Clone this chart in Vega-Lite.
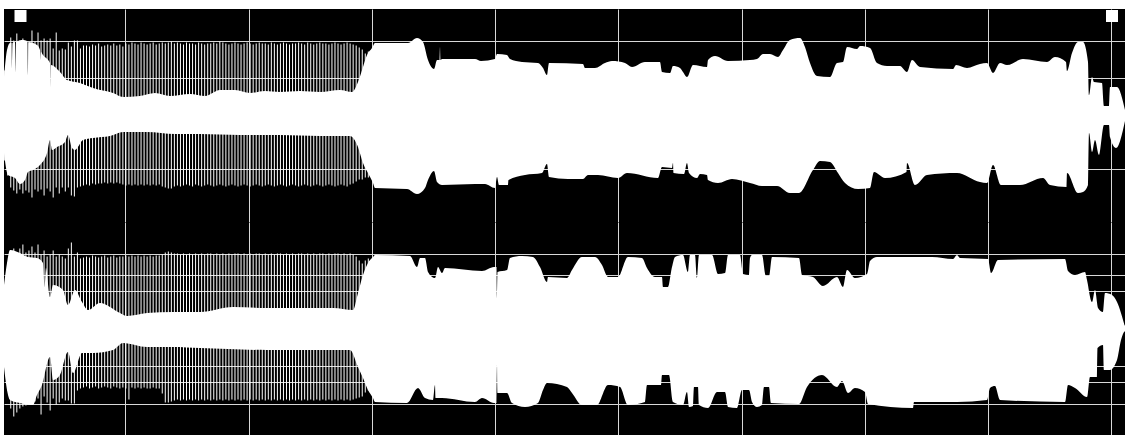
{"$schema":"https://vega.github.io/schema/vega-lite/v6.json","background":"white","padding":{"left":4,"top":9,"right":0,"bottom":0},"spacing":0,"config":{"view":{"fill":"black","stroke":null},"axis":{"grid":true,"gridColor":"#d8d8d8","gridWidth":1,"labels":false,"ticks":false,"domain":false,"title":null}},
"datasets":{
"marks":[{"t":16.5,"v":99.5},{"t":1108,"v":99.5}],
"comb":[
{"t":0.7,"hi1":45,"lo1":-45,"hi2":43,"lo2":-38},{"t":3.73,"hi1":65,"lo1":-60,"hi2":65,"lo2":-62},{"t":6.76,"hi1":78,"lo1":-72,"hi2":78,"lo2":-80},{"t":9.79,"hi1":75,"lo1":-75,"hi2":80,"lo2":-88},{"t":12.82,"hi1":82,"lo1":-78,"hi2":76,"lo2":-84},{"t":15.85,"hi1":75,"lo1":-74,"hi2":80,"lo2":-80},{"t":18.88,"hi1":77,"lo1":-78,"hi2":84,"lo2":-78},{"t":21.91,"hi1":75,"lo1":-75,"hi2":76,"lo2":-77},{"t":24.94,"hi1":73,"lo1":-77,"hi2":78,"lo2":-75},{"t":27.97,"hi1":85,"lo1":-82,"hi2":82,"lo2":-76},
{"t":31,"hi1":74,"lo1":-74,"hi2":76,"lo2":-73},{"t":34.03,"hi1":83,"lo1":-76,"hi2":84,"lo2":-70},{"t":37.06,"hi1":75,"lo1":-74,"hi2":74,"lo2":-86},{"t":40.09,"hi1":77,"lo1":-80,"hi2":78,"lo2":-68},{"t":43.12,"hi1":75,"lo1":-73,"hi2":72,"lo2":-74},{"t":46.15,"hi1":77,"lo1":-76,"hi2":74,"lo2":-82},{"t":49.18,"hi1":67,"lo1":-82,"hi2":78,"lo2":-70},{"t":52.21,"hi1":83,"lo1":-72,"hi2":72,"lo2":-76},{"t":55.24,"hi1":65,"lo1":-78,"hi2":74,"lo2":-74},{"t":58.27,"hi1":67,"lo1":-72,"hi2":72,"lo2":-70},
{"t":61.3,"hi1":66,"lo1":-76,"hi2":70,"lo2":-72},{"t":64.33,"hi1":73,"lo1":-72,"hi2":80,"lo2":-72},{"t":67.36,"hi1":69,"lo1":-80,"hi2":86,"lo2":-75},{"t":70.39,"hi1":75,"lo1":-81,"hi2":72,"lo2":-75},{"t":73.42,"hi1":75,"lo1":-72,"hi2":76,"lo2":-62},{"t":76.45,"hi1":67,"lo1":-71,"hi2":70,"lo2":-60},{"t":79.48,"hi1":70,"lo1":-70,"hi2":71,"lo2":-59},{"t":82.51,"hi1":70,"lo1":-69,"hi2":72,"lo2":-58},{"t":85.54,"hi1":69,"lo1":-70,"hi2":71,"lo2":-60},{"t":88.57,"hi1":71,"lo1":-68,"hi2":73,"lo2":-59},
{"t":91.6,"hi1":70,"lo1":-69,"hi2":72,"lo2":-58},{"t":94.63,"hi1":72,"lo1":-68,"hi2":71,"lo2":-60},{"t":97.66,"hi1":69,"lo1":-68,"hi2":72,"lo2":-59},{"t":100.69,"hi1":70,"lo1":-67,"hi2":73,"lo2":-58},{"t":103.72,"hi1":71,"lo1":-68,"hi2":71,"lo2":-59},{"t":106.75,"hi1":70,"lo1":-67,"hi2":72,"lo2":-60},{"t":109.78,"hi1":72,"lo1":-68,"hi2":73,"lo2":-58},{"t":112.81,"hi1":70,"lo1":-67,"hi2":71,"lo2":-59},{"t":115.84,"hi1":71,"lo1":-68,"hi2":72,"lo2":-60},{"t":118.87,"hi1":69,"lo1":-69,"hi2":72,"lo2":-59},
{"t":121.9,"hi1":72,"lo1":-70,"hi2":73,"lo2":-60},{"t":124.93,"hi1":71,"lo1":-69,"hi2":72,"lo2":-71},{"t":127.96,"hi1":73,"lo1":-70,"hi2":73,"lo2":-59},{"t":130.99,"hi1":72,"lo1":-69,"hi2":72,"lo2":-60},{"t":134.02,"hi1":71,"lo1":-70,"hi2":73,"lo2":-59},{"t":137.05,"hi1":73,"lo1":-69,"hi2":72,"lo2":-60},{"t":140.08,"hi1":72,"lo1":-70,"hi2":73,"lo2":-59},{"t":143.11,"hi1":71,"lo1":-69,"hi2":72,"lo2":-60},{"t":146.14,"hi1":72,"lo1":-70,"hi2":73,"lo2":-60},{"t":149.17,"hi1":73,"lo1":-69,"hi2":72,"lo2":-59},
{"t":152.2,"hi1":71,"lo1":-70,"hi2":73,"lo2":-60},{"t":155.23,"hi1":72,"lo1":-69,"hi2":73,"lo2":-60},{"t":158.26,"hi1":73,"lo1":-71,"hi2":74,"lo2":-65},{"t":161.29,"hi1":72,"lo1":-72,"hi2":76,"lo2":-74},{"t":164.32,"hi1":73,"lo1":-73,"hi2":77,"lo2":-74},{"t":167.35,"hi1":74,"lo1":-73,"hi2":76,"lo2":-73},{"t":170.38,"hi1":72,"lo1":-71,"hi2":75,"lo2":-72},{"t":173.41,"hi1":73,"lo1":-70,"hi2":75,"lo2":-71},{"t":176.44,"hi1":72,"lo1":-71,"hi2":74,"lo2":-72},{"t":179.47,"hi1":71,"lo1":-70,"hi2":75,"lo2":-71},
{"t":182.5,"hi1":73,"lo1":-69,"hi2":74,"lo2":-72},{"t":185.53,"hi1":72,"lo1":-70,"hi2":75,"lo2":-71},{"t":188.56,"hi1":72,"lo1":-71,"hi2":74,"lo2":-72},{"t":191.59,"hi1":71,"lo1":-69,"hi2":75,"lo2":-71},{"t":194.62,"hi1":73,"lo1":-70,"hi2":74,"lo2":-72},{"t":197.65,"hi1":72,"lo1":-71,"hi2":75,"lo2":-71},{"t":200.68,"hi1":71,"lo1":-70,"hi2":74,"lo2":-72},{"t":203.71,"hi1":72,"lo1":-69,"hi2":75,"lo2":-71},{"t":206.74,"hi1":72,"lo1":-70,"hi2":75,"lo2":-72},{"t":209.77,"hi1":73,"lo1":-71,"hi2":74,"lo2":-71},
{"t":212.8,"hi1":72,"lo1":-70,"hi2":75,"lo2":-72},{"t":215.83,"hi1":74,"lo1":-69,"hi2":74,"lo2":-71},{"t":218.86,"hi1":73,"lo1":-70,"hi2":75,"lo2":-72},{"t":221.89,"hi1":72,"lo1":-71,"hi2":74,"lo2":-71},{"t":224.92,"hi1":71,"lo1":-70,"hi2":75,"lo2":-72},{"t":227.95,"hi1":72,"lo1":-69,"hi2":74,"lo2":-71},{"t":230.98,"hi1":73,"lo1":-70,"hi2":75,"lo2":-72},{"t":234.01,"hi1":72,"lo1":-71,"hi2":75,"lo2":-71},{"t":237.04,"hi1":71,"lo1":-70,"hi2":74,"lo2":-72},{"t":240.07,"hi1":72,"lo1":-69,"hi2":75,"lo2":-71},
{"t":243.1,"hi1":73,"lo1":-70,"hi2":74,"lo2":-72},{"t":246.13,"hi1":72,"lo1":-71,"hi2":75,"lo2":-71},{"t":249.16,"hi1":71,"lo1":-70,"hi2":74,"lo2":-72},{"t":252.19,"hi1":72,"lo1":-69,"hi2":75,"lo2":-71},{"t":255.22,"hi1":73,"lo1":-70,"hi2":75,"lo2":-72},{"t":258.25,"hi1":72,"lo1":-71,"hi2":74,"lo2":-71},{"t":261.28,"hi1":72,"lo1":-70,"hi2":75,"lo2":-72},{"t":264.31,"hi1":71,"lo1":-69,"hi2":74,"lo2":-71},{"t":267.34,"hi1":73,"lo1":-70,"hi2":75,"lo2":-72},{"t":270.37,"hi1":72,"lo1":-71,"hi2":74,"lo2":-71},
{"t":273.4,"hi1":71,"lo1":-70,"hi2":75,"lo2":-72},{"t":276.43,"hi1":72,"lo1":-69,"hi2":75,"lo2":-71},{"t":279.46,"hi1":73,"lo1":-70,"hi2":74,"lo2":-72},{"t":282.49,"hi1":72,"lo1":-71,"hi2":75,"lo2":-71},{"t":285.52,"hi1":71,"lo1":-70,"hi2":74,"lo2":-72},{"t":288.55,"hi1":72,"lo1":-69,"hi2":75,"lo2":-71},{"t":291.58,"hi1":72,"lo1":-70,"hi2":74,"lo2":-72},{"t":294.61,"hi1":73,"lo1":-71,"hi2":75,"lo2":-71},{"t":297.64,"hi1":72,"lo1":-70,"hi2":75,"lo2":-72},{"t":300.67,"hi1":71,"lo1":-69,"hi2":74,"lo2":-71},
{"t":303.7,"hi1":73,"lo1":-70,"hi2":75,"lo2":-72},{"t":306.73,"hi1":72,"lo1":-71,"hi2":74,"lo2":-71},{"t":309.76,"hi1":71,"lo1":-70,"hi2":75,"lo2":-72},{"t":312.79,"hi1":72,"lo1":-69,"hi2":74,"lo2":-71},{"t":315.82,"hi1":73,"lo1":-70,"hi2":75,"lo2":-72},{"t":318.85,"hi1":72,"lo1":-71,"hi2":75,"lo2":-71},{"t":321.88,"hi1":72,"lo1":-70,"hi2":74,"lo2":-72},{"t":324.91,"hi1":71,"lo1":-69,"hi2":75,"lo2":-71},{"t":327.94,"hi1":72,"lo1":-70,"hi2":74,"lo2":-72},{"t":330.97,"hi1":73,"lo1":-71,"hi2":75,"lo2":-71},
{"t":334,"hi1":72,"lo1":-70,"hi2":75,"lo2":-72},{"t":337.03,"hi1":71,"lo1":-69,"hi2":74,"lo2":-71},{"t":340.06,"hi1":72,"lo1":-70,"hi2":75,"lo2":-72},{"t":343.09,"hi1":73,"lo1":-71,"hi2":74,"lo2":-71},{"t":346.12,"hi1":72,"lo1":-69,"hi2":75,"lo2":-72},{"t":349.15,"hi1":71,"lo1":-68,"hi2":74,"lo2":-71},{"t":352.18,"hi1":70,"lo1":-66,"hi2":72,"lo2":-70},{"t":355.21,"hi1":68,"lo1":-64,"hi2":68,"lo2":-69},{"t":358.24,"hi1":66,"lo1":-64,"hi2":65,"lo2":-68},{"t":361.27,"hi1":62,"lo1":-62,"hi2":68,"lo2":-64},{"t":364.3,"hi1":64,"lo1":-62,"hi2":70,"lo2":-62}],
"c1t":[{"t":0,"v":38.5},{"t":3,"v":65.5},{"t":6,"v":72.5},{"t":7.5,"v":72.5},{"t":8,"v":47.5},{"t":8.5,"v":72.5},{"t":11,"v":73.5},{"t":11.5,"v":43.5},{"t":12,"v":73.5},{"t":19,"v":75.5},{"t":23.5,"v":73.5},{"t":24,"v":40.5},{"t":24.5,"v":73.5},{"t":33,"v":70.5},{"t":36,"v":65.5},{"t":36.5,"v":55.5},{"t":37,"v":63.5},{"t":39,"v":60.5},{"t":46,"v":52.5},{"t":46.5,"v":28.5},{"t":47,"v":50.5},{"t":56,"v":43.5},{"t":63,"v":35.5},{"t":76,"v":32.5},{"t":89,"v":27.5},{"t":109,"v":22.5},{"t":119,"v":18.5},{"t":136,"v":19.5},{"t":151,"v":22.5},{"t":166,"v":19.5},{"t":186,"v":21.5},{"t":201,"v":19.5},{"t":216,"v":25.5},{"t":231,"v":25.5},{"t":246,"v":22.5},{"t":261,"v":24.5},{"t":276,"v":23.5},{"t":296,"v":24.5},{"t":316,"v":23.5},{"t":336,"v":25.5},{"t":348,"v":23.5},{"t":354,"v":33.5},{"t":359,"v":48.5},{"t":363,"v":60.5},{"t":368,"v":67.5},{"t":371,"v":72.5},{"t":404,"v":72.5},{"t":413,"v":77.5},{"t":419,"v":73.5},{"t":424,"v":55.5},{"t":430,"v":46.5},{"t":433,"v":55.5},{"t":435.5,"v":55.5},{"t":436,"v":68.5},{"t":436.5,"v":55.5},{"t":438,"v":56.5},{"t":471,"v":56.5},{"t":477,"v":54.5},{"t":491,"v":56.5},{"t":493,"v":61.5},{"t":503,"v":60.5},{"t":506,"v":56.5},{"t":518,"v":53.5},{"t":534,"v":52.5},{"t":539,"v":47.5},{"t":543,"v":40.5},{"t":545,"v":52.5},{"t":579,"v":51.5},{"t":581,"v":47.5},{"t":591,"v":47.5},{"t":601,"v":52.5},{"t":608,"v":54.5},{"t":621,"v":52.5},{"t":628,"v":48.5},{"t":641,"v":53.5},{"t":656,"v":53.5},{"t":658,"v":43.5},{"t":666,"v":42.5},{"t":669,"v":49.5},{"t":676,"v":47.5},{"t":679,"v":43.5},{"t":683,"v":38.5},{"t":689,"v":50.5},{"t":703,"v":48.5},{"t":704,"v":55.5},{"t":711,"v":59.5},{"t":724,"v":54.5},{"t":746,"v":55.5},{"t":753,"v":56.5},{"t":759,"v":61.5},{"t":766,"v":61.5},{"t":774,"v":58.5},{"t":779,"v":65.5},{"t":786,"v":75.5},{"t":796,"v":77.5},{"t":801,"v":68.5},{"t":806,"v":52.5},{"t":813,"v":39.5},{"t":826,"v":38.5},{"t":833,"v":52.5},{"t":839,"v":53.5},{"t":843,"v":68.5},{"t":853,"v":66.5},{"t":856,"v":69.5},{"t":866,"v":67.5},{"t":873,"v":52.5},{"t":883,"v":49.5},{"t":896,"v":49.5},{"t":903,"v":43.5},{"t":908,"v":55.5},{"t":916,"v":48.5},{"t":949,"v":46.5},{"t":952,"v":50.5},{"t":963,"v":47.5},{"t":976,"v":51.5},{"t":983,"v":52.5},{"t":989,"v":42.5},{"t":996,"v":52.5},{"t":1003,"v":50.5},{"t":1019,"v":56.5},{"t":1043,"v":53.5},{"t":1051,"v":58.5},{"t":1062,"v":53.5},{"t":1063,"v":44.5},{"t":1068,"v":62.5},{"t":1074,"v":73.5},{"t":1079,"v":73.5},{"t":1084,"v":53.5},{"t":1085,"v":20.5},{"t":1088,"v":38.5},{"t":1090,"v":33.5},{"t":1098,"v":32.5},{"t":1100,"v":9.5},{"t":1105,"v":9.5},{"t":1106,"v":28.5},{"t":1113,"v":28.5},{"t":1121,"v":5.5}],
"c1b":[{"t":0,"v":-37.5},{"t":4,"v":-59.5},{"t":11,"v":-62.5},{"t":16,"v":-68.5},{"t":21,"v":-64.5},{"t":24,"v":-56.5},{"t":29,"v":-54.5},{"t":36,"v":-49.5},{"t":43,"v":-37.5},{"t":46,"v":-24.5},{"t":48,"v":-34.5},{"t":53,"v":-31.5},{"t":61,"v":-26.5},{"t":64,"v":-19.5},{"t":68,"v":-32.5},{"t":71,"v":-34.5},{"t":79,"v":-24.5},{"t":89,"v":-22.5},{"t":106,"v":-20.5},{"t":119,"v":-16.5},{"t":143,"v":-16.5},{"t":171,"v":-18.5},{"t":196,"v":-18.5},{"t":236,"v":-19.5},{"t":276,"v":-19.5},{"t":316,"v":-20.5},{"t":346,"v":-20.5},{"t":354,"v":-31.5},{"t":359,"v":-47.5},{"t":364,"v":-57.5},{"t":369,"v":-67.5},{"t":371,"v":-72.5},{"t":403,"v":-73.5},{"t":413,"v":-78.5},{"t":421,"v":-72.5},{"t":424,"v":-64.5},{"t":430,"v":-55.5},{"t":433,"v":-66.5},{"t":438,"v":-69.5},{"t":471,"v":-68.5},{"t":481,"v":-68.5},{"t":491,"v":-72.5},{"t":493,"v":-61.5},{"t":495,"v":-69.5},{"t":504,"v":-69.5},{"t":504.5,"v":-64.5},{"t":521,"v":-59.5},{"t":538,"v":-57.5},{"t":543,"v":-48.5},{"t":545,"v":-61.5},{"t":564,"v":-63.5},{"t":579,"v":-63.5},{"t":584,"v":-59.5},{"t":594,"v":-59.5},{"t":614,"v":-62.5},{"t":623,"v":-57.5},{"t":654,"v":-62.5},{"t":658,"v":-51.5},{"t":668,"v":-52.5},{"t":669,"v":-47.5},{"t":669.5,"v":-57.5},{"t":680,"v":-58.5},{"t":683,"v":-47.5},{"t":685,"v":-57.5},{"t":693,"v":-62.5},{"t":696,"v":-58.5},{"t":703,"v":-59.5},{"t":704,"v":-64.5},{"t":714,"v":-67.5},{"t":728,"v":-63.5},{"t":746,"v":-67.5},{"t":758,"v":-70.5},{"t":773,"v":-70.5},{"t":786,"v":-77.5},{"t":795,"v":-77.5},{"t":809,"v":-54.5},{"t":816,"v":-45.5},{"t":826,"v":-46.5},{"t":834,"v":-57.5},{"t":841,"v":-67.5},{"t":854,"v":-73.5},{"t":866,"v":-72.5},{"t":870,"v":-56.5},{"t":881,"v":-62.5},{"t":902.5,"v":-56.5},{"t":903,"v":-47.5},{"t":911,"v":-69.5},{"t":923,"v":-59.5},{"t":953,"v":-57.5},{"t":976,"v":-66.5},{"t":983,"v":-67.5},{"t":989,"v":-49.5},{"t":997,"v":-69.5},{"t":1016,"v":-69.5},{"t":1039,"v":-62.5},{"t":1046,"v":-69.5},{"t":1062.5,"v":-71.5},{"t":1063,"v":-57.5},{"t":1074,"v":-77.5},{"t":1079,"v":-76.5},{"t":1084,"v":-69.5},{"t":1085,"v":-17.5},{"t":1088,"v":-36.5},{"t":1091,"v":-24.5},{"t":1095,"v":-39.5},{"t":1100,"v":-9.5},{"t":1105,"v":-9.5},{"t":1106,"v":-21.5},{"t":1112,"v":-32.5},{"t":1121,"v":-5.5}],
"c2t":[{"t":0,"v":43.5},{"t":3,"v":65.5},{"t":6,"v":78.5},{"t":16,"v":75.5},{"t":24,"v":71.5},{"t":33,"v":70.5},{"t":39,"v":65.5},{"t":40.5,"v":41.5},{"t":42,"v":60.5},{"t":46,"v":31.5},{"t":49,"v":43.5},{"t":59,"v":38.5},{"t":64,"v":23.5},{"t":71,"v":38.5},{"t":78,"v":26.5},{"t":84,"v":18.5},{"t":96,"v":25.5},{"t":116,"v":15.5},{"t":123,"v":12.5},{"t":143,"v":15.5},{"t":169,"v":16.5},{"t":196,"v":16.5},{"t":229,"v":21.5},{"t":263,"v":20.5},{"t":329,"v":20.5},{"t":349,"v":18.5},{"t":354,"v":35.5},{"t":359,"v":53.5},{"t":364,"v":65.5},{"t":369,"v":71.5},{"t":371,"v":73.5},{"t":406,"v":72.5},{"t":413,"v":61.5},{"t":416,"v":70.5},{"t":421,"v":70.5},{"t":424,"v":56.5},{"t":431,"v":50.5},{"t":434,"v":61.5},{"t":438,"v":55.5},{"t":441,"v":60.5},{"t":478,"v":57.5},{"t":490,"v":61.5},{"t":492.5,"v":61.5},{"t":493,"v":30.5},{"t":493.5,"v":56.5},{"t":503,"v":58.5},{"t":506,"v":70.5},{"t":518,"v":72.5},{"t":529,"v":71.5},{"t":536,"v":61.5},{"t":543,"v":46.5},{"t":544,"v":51.5},{"t":563,"v":50.5},{"t":568,"v":58.5},{"t":578,"v":71.5},{"t":591,"v":71.5},{"t":598,"v":63.5},{"t":604,"v":51.5},{"t":614,"v":51.5},{"t":624,"v":71.5},{"t":638,"v":70.5},{"t":643,"v":60.5},{"t":651,"v":51.5},{"t":658,"v":51.5},{"t":659,"v":41.5},{"t":664,"v":41.5},{"t":668,"v":61.5},{"t":671,"v":71.5},{"t":679,"v":73.5},{"t":684,"v":56.5},{"t":686,"v":73.5},{"t":691,"v":73.5},{"t":693,"v":50.5},{"t":695,"v":73.5},{"t":708,"v":73.5},{"t":714,"v":54.5},{"t":721,"v":55.5},{"t":724,"v":73.5},{"t":736,"v":73.5},{"t":739,"v":54.5},{"t":745,"v":53.5},{"t":746,"v":70.5},{"t":748,"v":73.5},{"t":758,"v":73.5},{"t":762,"v":52.5},{"t":765,"v":52.5},{"t":768,"v":71.5},{"t":795,"v":70.5},{"t":798,"v":53.5},{"t":809,"v":51.5},{"t":819,"v":42.5},{"t":833,"v":51.5},{"t":839,"v":41.5},{"t":843,"v":58.5},{"t":851,"v":50.5},{"t":863,"v":54.5},{"t":866,"v":67.5},{"t":873,"v":71.5},{"t":903,"v":71.5},{"t":928,"v":71.5},{"t":949,"v":69.5},{"t":953,"v":73.5},{"t":956,"v":70.5},{"t":984,"v":69.5},{"t":987,"v":55.5},{"t":994,"v":68.5},{"t":1061,"v":69.5},{"t":1064,"v":57.5},{"t":1071,"v":53.5},{"t":1081,"v":56.5},{"t":1083,"v":48.5},{"t":1088,"v":26.5},{"t":1091,"v":38.5},{"t":1094,"v":20.5},{"t":1099,"v":16.5},{"t":1101,"v":35.5},{"t":1108,"v":33.5},{"t":1113,"v":26.5},{"t":1121,"v":1.5}],
"c2b":[{"t":0,"v":-38.5},{"t":3,"v":-61.5},{"t":6,"v":-71.5},{"t":16,"v":-74.5},{"t":26,"v":-76.5},{"t":29,"v":-76.5},{"t":33,"v":-66.5},{"t":38,"v":-56.5},{"t":46,"v":-28.5},{"t":49,"v":-51.5},{"t":56,"v":-46.5},{"t":64,"v":-23.5},{"t":69,"v":-44.5},{"t":78,"v":-24.5},{"t":89,"v":-24.5},{"t":109,"v":-21.5},{"t":119,"v":-14.5},{"t":143,"v":-18.5},{"t":169,"v":-18.5},{"t":196,"v":-19.5},{"t":263,"v":-21.5},{"t":346,"v":-21.5},{"t":354,"v":-38.5},{"t":359,"v":-49.5},{"t":364,"v":-61.5},{"t":369,"v":-69.5},{"t":371,"v":-73.5},{"t":403,"v":-74.5},{"t":414,"v":-59.5},{"t":421,"v":-69.5},{"t":429,"v":-71.5},{"t":431,"v":-56.5},{"t":431.5,"v":-69.5},{"t":438,"v":-69.5},{"t":471,"v":-73.5},{"t":478,"v":-69.5},{"t":490,"v":-74.5},{"t":492.5,"v":-74.5},{"t":493,"v":-36.5},{"t":493.5,"v":-64.5},{"t":503,"v":-64.5},{"t":508,"v":-74.5},{"t":521,"v":-78.5},{"t":534,"v":-74.5},{"t":539,"v":-61.5},{"t":543,"v":-54.5},{"t":563,"v":-58.5},{"t":568,"v":-64.5},{"t":578,"v":-76.5},{"t":593,"v":-76.5},{"t":604,"v":-56.5},{"t":616,"v":-58.5},{"t":624,"v":-76.5},{"t":641,"v":-73.5},{"t":643,"v":-56.5},{"t":657,"v":-56.5},{"t":658,"v":-46.5},{"t":665,"v":-46.5},{"t":669,"v":-73.5},{"t":679,"v":-76.5},{"t":683,"v":-63.5},{"t":685,"v":-78.5},{"t":689,"v":-77.5},{"t":690,"v":-58.5},{"t":694,"v":-58.5},{"t":695,"v":-76.5},{"t":704,"v":-79.5},{"t":713,"v":-63.5},{"t":721,"v":-63.5},{"t":724,"v":-78.5},{"t":733,"v":-79.5},{"t":738,"v":-61.5},{"t":745,"v":-61.5},{"t":748,"v":-73.5},{"t":753,"v":-78.5},{"t":758,"v":-76.5},{"t":760,"v":-58.5},{"t":765,"v":-58.5},{"t":767,"v":-74.5},{"t":795,"v":-75.5},{"t":803,"v":-58.5},{"t":818,"v":-46.5},{"t":833,"v":-58.5},{"t":838,"v":-52.5},{"t":844,"v":-64.5},{"t":851,"v":-59.5},{"t":861,"v":-63.5},{"t":864,"v":-75.5},{"t":909,"v":-79.5},{"t":910,"v":-73.5},{"t":953,"v":-73.5},{"t":983,"v":-71.5},{"t":986,"v":-59.5},{"t":991,"v":-57.5},{"t":996,"v":-71.5},{"t":1061,"v":-73.5},{"t":1064,"v":-56.5},{"t":1071,"v":-59.5},{"t":1083,"v":-68.5},{"t":1086,"v":-48.5},{"t":1093,"v":-48.5},{"t":1093.5,"v":-19.5},{"t":1099,"v":-16.5},{"t":1100,"v":-41.5},{"t":1106,"v":-41.5},{"t":1113,"v":-31.5},{"t":1117,"v":-11.5},{"t":1121,"v":-1.5}]
},
"vconcat":[
{"width":1121,"height":213,"encoding":{"x":{"field":"t","type":"quantitative","scale":{"domain":[0,1121],"nice":false,"zero":false},"axis":{"values":[121,244.7,368,491,614,737.7,861,984,1107]}}},
"layer":[
{"data":{"name":"c1t"},"mark":{"type":"area","fill":"white","interpolate":"monotone"},"encoding":{"y":{"field":"v","type":"quantitative","scale":{"domain":[-106.5,106.5],"nice":false},"axis":{"values":[75,53,37.5,-37.5,-53,-75,-106.5]}},"y2":{"datum":-3}}},
{"data":{"name":"c1b"},"mark":{"type":"area","fill":"white","interpolate":"monotone"},"encoding":{"y":{"field":"v","type":"quantitative"},"y2":{"datum":3}}},
{"data":{"name":"comb"},"mark":{"type":"rule","stroke":"white","strokeWidth":1},"encoding":{"y":{"field":"hi1","type":"quantitative"},"y2":{"field":"lo1"}}},
{"data":{"name":"marks"},"mark":{"type":"point","shape":"square","filled":true,"fill":"white","opacity":1,"size":144,"stroke":null},"encoding":{"y":{"field":"v","type":"quantitative"}}}
]},
{"width":1121,"height":213,"encoding":{"x":{"field":"t","type":"quantitative","scale":{"domain":[0,1121],"nice":false,"zero":false},"axis":{"values":[121,244.7,368,491,614,737.7,861,984,1107]}}},
"layer":[
{"data":{"name":"c2t"},"mark":{"type":"area","fill":"white","interpolate":"monotone"},"encoding":{"y":{"field":"v","type":"quantitative","scale":{"domain":[-106.5,106.5],"nice":false},"axis":{"values":[75,53,37.5,-37.5,-53,-75]}},"y2":{"datum":-3}}},
{"data":{"name":"c2b"},"mark":{"type":"area","fill":"white","interpolate":"monotone"},"encoding":{"y":{"field":"v","type":"quantitative"},"y2":{"datum":3}}},
{"data":{"name":"comb"},"mark":{"type":"rule","stroke":"white","strokeWidth":1},"encoding":{"y":{"field":"hi2","type":"quantitative"},"y2":{"field":"lo2"}}}
]}
]}
